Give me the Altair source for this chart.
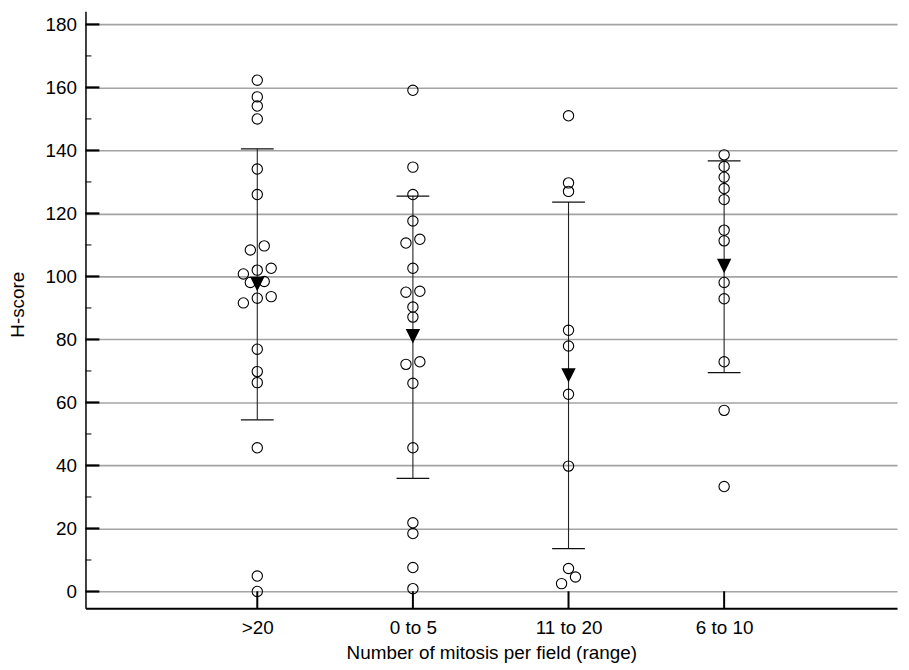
import json
import altair as alt
import pandas as pd

# ---- data ----
categories = [">20", "0 to 5", "11 to 20", "6 to 10"]
scores_gt20 = [162.3, 157.0, 154.1, 150.0, 134.1, 126.0, 109.7, 108.4, 102.6, 102.0,
               100.8, 98.4, 98.1, 93.6, 93.1, 91.6, 76.9, 69.8, 66.3, 45.6, 4.9, 0.0]
scores_0to5 = [159.1, 134.7, 126.0, 117.6, 111.8, 110.6, 102.6, 95.3, 95.0, 90.3,
               87.1, 72.9, 72.1, 66.1, 45.6, 21.8, 18.4, 7.6, 0.9]
scores_11to20 = [151.0, 129.7, 127.0, 82.9, 77.9, 62.6, 39.8, 7.3, 4.6, 2.5]
scores_6to10 = [138.6, 134.9, 131.5, 127.9, 124.4, 114.7, 111.3, 98.1, 92.9, 72.9, 57.5, 33.3]
group_means = [97.6, 81.0, 68.6, 103.3]
sd_low = [54.5, 35.9, 13.6, 69.5]
sd_high = [140.5, 125.5, 123.6, 136.7]
y_major_ticks = list(range(0, 181, 20))
y_minor_ticks = list(range(10, 180, 20))

# ---- layout ----
W, H = 817, 601
X_DOMAIN = [-0.104, 5.111]
Y_DOMAIN = [-5.3, 184.2]
PX_PER_UNIT = W / (X_DOMAIN[1] - X_DOMAIN[0])
FONT = "Liberation Sans"

xscale = alt.Scale(domain=X_DOMAIN, nice=False, zero=False)
yscale = alt.Scale(domain=Y_DOMAIN, nice=False, zero=False)


def swarm(values, thresh=2.5, step_px=14):
    """Simple dot-plot arrangement: near-equal values are spread side by side."""
    step = step_px / PX_PER_UNIT
    groups = []
    for v in sorted(values, reverse=True):
        if groups and groups[-1][0] - v < thresh:
            groups[-1].append(v)
        else:
            groups.append([v])
    out = []
    for g in groups:
        k = len(g)
        for i, v in enumerate(sorted(g)):
            out.append((v, (i - (k - 1) / 2) * step))
    return out


rows = []
for idx, vals in enumerate([scores_gt20, scores_0to5, scores_11to20, scores_6to10], start=1):
    for v, off in swarm(vals):
        rows.append({"cat": categories[idx - 1], "pos": idx + off, "score": v})
points_df = pd.DataFrame(rows)

summary_df = pd.DataFrame({
    "cat": categories,
    "pos": list(range(1, len(categories) + 1)),
    "mean": group_means,
    "lo": sd_low,
    "hi": sd_high,
})
caps_df = pd.DataFrame({
    "pos": list(range(1, len(categories) + 1)) * 2,
    "val": sd_low + sd_high,
})
major_df = pd.DataFrame({"v": y_major_ticks})
minor_df = pd.DataFrame({"v": y_minor_ticks})

label_expr = "[" + ",".join(json.dumps(c) for c in categories) + "][datum.value - 1]"

x_axis = alt.Axis(
    values=list(range(1, len(categories) + 1)),
    labelExpr=label_expr,
    ticks=False, grid=False,
    domainColor="black", domainWidth=2,
    labelFont=FONT, labelFontSize=19, labelColor="black", labelPadding=10,
    title="Number of mitosis per field (range)",
    titleFont=FONT, titleFontSize=19, titleFontWeight="normal", titleColor="black",
    titlePadding=7,
)
y_axis = alt.Axis(
    values=y_major_ticks,
    ticks=False, grid=True, gridColor="#a3a3a3", gridWidth=1.6,
    domainColor="black", domainWidth=1.5,
    labelFont=FONT, labelFontSize=19, labelColor="black", labelPadding=9,
    title="H-score",
    titleFont=FONT, titleFontSize=19, titleFontWeight="normal", titleColor="black",
    titleX=-62, titleY=295, titleBaseline="alphabetic",
)


def X(field):
    return alt.X(field, scale=xscale, axis=x_axis)


def Y(field):
    return alt.Y(field, scale=yscale, axis=y_axis)


points = alt.Chart(points_df).mark_point(
    shape="circle", filled=False, size=108, strokeWidth=1.1, color="black", opacity=1
).encode(x=X("pos:Q"), y=Y("score:Q"))

whisker = alt.Chart(summary_df).mark_rule(color="#222222", strokeWidth=1.1).encode(
    x=X("pos:Q"), y=Y("lo:Q"), y2="hi:Q",
)
caps = alt.Chart(caps_df).mark_tick(
    orient="horizontal", size=33, thickness=1.2, color="#111111", opacity=1
).encode(x=X("pos:Q"), y=Y("val:Q"))
means = alt.Chart(summary_df).mark_point(
    shape="M-1,-1L1,-1L0,1Z", filled=True, size=210, color="black", opacity=1
).encode(x=X("pos:Q"), y=Y("mean:Q"))

x_ticks = alt.Chart(summary_df).mark_rule(color="black", strokeWidth=2).encode(
    x=X("pos:Q"), y=alt.value(H), y2=alt.value(H - 17),
)
y_major = alt.Chart(major_df).mark_rule(color="black", strokeWidth=2.2).encode(
    y=Y("v:Q"), x=alt.value(0), x2=alt.value(14),
)
y_minor = alt.Chart(minor_df).mark_rule(color="black", strokeWidth=1).encode(
    y=Y("v:Q"), x=alt.value(0), x2=alt.value(6),
)

chart = alt.layer(
    whisker, caps, x_ticks, y_major, y_minor, points, means
).properties(
    width=W, height=H,
    autosize=alt.AutoSizeParams(type="none"),
    padding={"left": 78, "top": 1, "right": 4, "bottom": 58},
    background="white",
).configure_view(stroke=None)

chart.save("out.html", embed_options={"renderer": "svg", "actions": False})
